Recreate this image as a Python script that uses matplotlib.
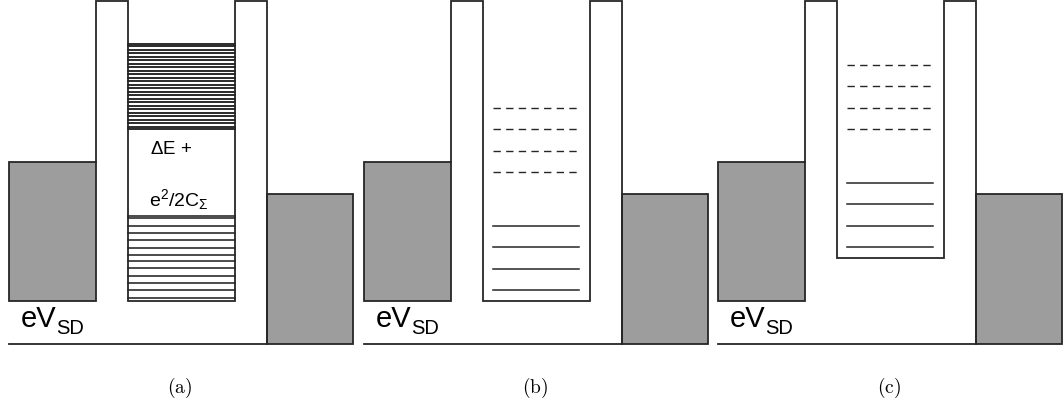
import matplotlib
matplotlib.use('agg')
import matplotlib.pyplot as plt
from matplotlib.patches import Rectangle

plt.rcParams['font.family'] = ['Liberation Sans', 'DejaVu Sans']
plt.rcParams['mathtext.fontset'] = 'custom'
plt.rcParams['mathtext.rm'] = 'Liberation Sans'
plt.rcParams['mathtext.it'] = 'Liberation Sans'

# energies measured up from the drain band bottom
panel_labels = ['(a)', '(b)', '(c)']
source_top = 182
source_bottom = 43          # eV_SD
drain_top = 150
barrier_top = 343
well_bottom = [43, 43, 86]

# (a): quasi-continuous spectrum, two bands separated by dE + e^2/2C
band_upper = [300, 298, 294.5, 291, 287.5, 284, 280.5, 277, 273.5, 270, 266.5,
              263, 259.5, 256, 252.5, 249, 245.5, 242, 238.5, 235, 231.5, 228,
              224.5, 221, 217.5, 215]
band_lower = [128, 126, 118, 111, 104, 96, 89, 83, 76, 68, 61, 54, 46]

# (b), (c): discrete levels, filled (solid) and empty (dashed)
filled_levels = [None, [118, 97, 75, 54], [161, 140, 118, 97]]
empty_levels = [None, [236, 215, 193, 172], [279, 258, 236, 215]]

panel_x0 = [9, 364, 718]

LINE = '#262626'
GRAY = '#9d9d9d'

fig = plt.figure(figsize=(10.63, 4.06), dpi=100)
ax = fig.add_axes([0, 0, 1, 1])
ax.set_xlim(0, 1063)
ax.set_ylim(-61, 345)
ax.axis('off')

for i, x0 in enumerate(panel_x0):
    # x positions inside one panel
    lead_r = x0 + 87
    well_l = x0 + 119
    well_r = x0 + 226
    bar_r = x0 + 258
    drain_r = x0 + 344
    wb = well_bottom[i]

    # leads
    ax.add_patch(Rectangle((x0, source_bottom), lead_r - x0, source_top - source_bottom,
                           facecolor=GRAY, edgecolor=LINE, lw=1.3, zorder=2))
    ax.add_patch(Rectangle((bar_r, 0), drain_r - bar_r, drain_top,
                           facecolor=GRAY, edgecolor=LINE, lw=1.3, zorder=2))

    # potential outline: baseline, barriers and the dot well
    ax.plot([x0, bar_r, bar_r, well_r, well_r, well_l, well_l, lead_r, lead_r],
            [0, 0, barrier_top, barrier_top, wb, wb, barrier_top, barrier_top, source_top],
            color=LINE, lw=1.3, solid_joinstyle='miter', zorder=3)

    if i == 0:
        for e in band_upper:
            ax.plot([well_l, well_r], [e, e], color='#1a1a1a', lw=1.3, zorder=1)
        for e in band_lower:
            ax.plot([well_l, well_r], [e, e], color='#1a1a1a', lw=1.1, zorder=1)
        ax.text(well_l + 22, 195, r'$\Delta$E +', fontsize=13.5, va='center', ha='left')
        ax.text(well_l + 21, 145, r'e$^2$/2C$_\Sigma$', fontsize=14, va='center', ha='left')
    else:
        for e in filled_levels[i]:
            ax.plot([x0 + 129, x0 + 215], [e, e], color=LINE, lw=1.1, zorder=1)
        for e in empty_levels[i]:
            ax.plot([x0 + 129, x0 + 213], [e, e], color=LINE, lw=1.0,
                    dashes=(5.3, 3.8), dash_capstyle='butt', zorder=1)

    ax.text(x0 + 12, 18, 'eV', fontsize=21, va='baseline', ha='left')
    ax.text(x0 + 47, 11, 'SD', fontsize=14.5, va='baseline', ha='left')
    ax.text(x0 + 171, -43, r'$\mathrm{' + panel_labels[i] + '}$', fontsize=14,
            math_fontfamily='cm', ha='center', va='center')

fig.savefig('out.png', dpi=100)
